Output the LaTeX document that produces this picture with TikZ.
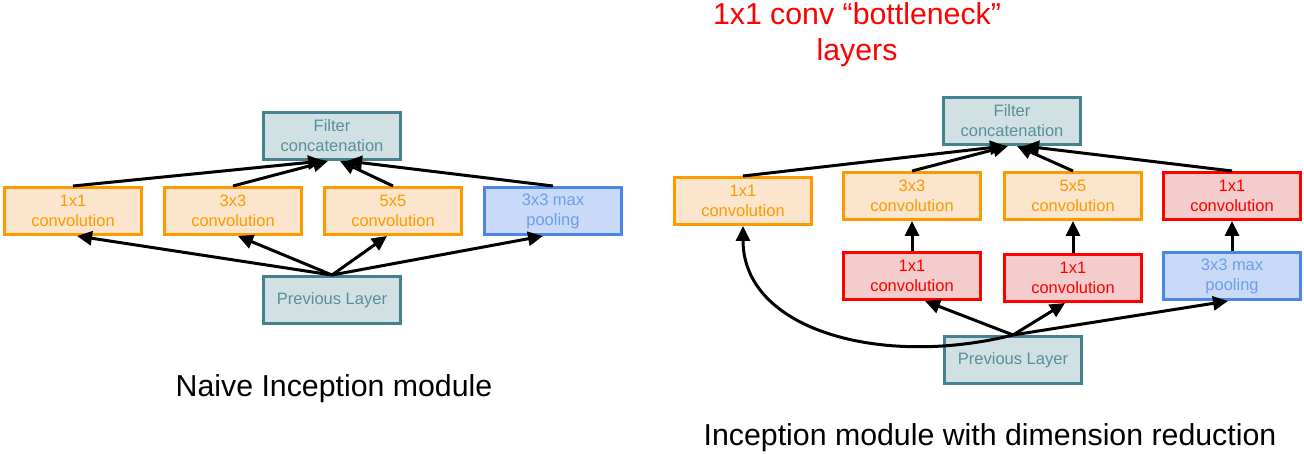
\documentclass[tikz,border=0pt]{standalone}
\usepackage{fontspec}
\setmainfont{Liberation Sans}
\usepackage{xcolor}
\usepackage{tikz}
\usetikzlibrary{positioning,arrows.meta,shapes.geometric}

\definecolor{orangeline}{HTML}{FF9900}
\definecolor{orangefill}{HTML}{FCE5CD}
\definecolor{redline}{HTML}{FF0000}
\definecolor{redfill}{HTML}{F4CCCC}
\definecolor{blueline}{HTML}{4A86E8}
\definecolor{bluefill}{HTML}{C9DAF8}
\definecolor{bluetext}{HTML}{6D9EEB}
\definecolor{tealline}{HTML}{45818E}
\definecolor{tealfill}{HTML}{D0E0E3}
\definecolor{tealtext}{HTML}{5B8F9B}

\tikzset{
    layer/.style={
        rectangle,
        draw,
        line width=3pt,
        minimum width=137pt,
        minimum height=47pt,
        inner sep=0pt,
        align=center,
        font=\fontsize{16.5}{20}\selectfont
    },
    convbox/.style={layer, draw=orangeline, fill=orangefill, text=orangeline},
    bottleneck/.style={layer, draw=redline, fill=redfill, text=redline},
    poolbox/.style={layer, draw=blueline, fill=bluefill, text=bluetext},
    tealbox/.style={layer, draw=tealline, fill=tealfill, text=tealtext},
    caption/.style={font=\fontsize{30.3}{36}\selectfont, inner sep=0pt},
    arrow/.style={-{Triangle[length=15pt,width=14pt]}, line width=3pt, black}
}

\begin{document}
\begin{tikzpicture}[x=1pt,y=-1pt]
    \useasboundingbox (0,0) rectangle (1304,454);

    % Modulo naive
    \node[tealbox] (fcA) at (332,136) {Filter\\concatenation};
    \node[convbox] (c1A) at (73,211) {1x1\\convolution};
    \node[convbox] (c3A) at (233,211) {3x3\\convolution};
    \node[convbox] (c5A) at (393,211) {5x5\\convolution};
    \node[poolbox] (poolA) at (553,211) {3x3 max\\pooling};
    \node[tealbox] (prevA) at (332,300) {Previous Layer};
    \node[caption, anchor=base] (naive) at (334,396) {Naive Inception module};

    \foreach \n/\s in {c1A/-9,c3A/-4,c5A/8,poolA/15}
        \draw[arrow] (\n.north) -- ([xshift=\s pt]fcA.south);
    \foreach \n/\s in {c1A/4,c3A/5,c5A/-6,poolA/-10}
        \draw[arrow] (prevA.north) -- ([xshift=\s pt]\n.south);

    % Modulo con riduzione della dimensione
    \node[caption, text=redline, align=center, anchor=north] (title) at (857,2.5)
        {1x1 conv “bottleneck”\\layers};
    \node[tealbox] (fcB) at (1012,121) {Filter\\concatenation};
    \node[convbox] (c1B) at (743,201) {1x1\\convolution};
    \node[convbox] (c3B) at (912,196) {3x3\\convolution};
    \node[convbox] (c5B) at (1073,196) {5x5\\convolution};
    \node[bottleneck] (rdB) at (1232,196) {1x1\\convolution};
    \node[bottleneck] (r3B) at (912,276) {1x1\\convolution};
    \node[bottleneck] (r5B) at (1073,278) {1x1\\convolution};
    \node[poolbox] (poolB) at (1232,276) {3x3 max\\pooling};
    \node[tealbox] (prevB) at (1013,360) {Previous Layer};
    \node[caption, anchor=base] (dimred) at (990,445) {Inception module with dimension reduction};

    \foreach \n/\s in {c1B/-7,c3B/-4,c5B/5,rdB/12}
        \draw[arrow] (\n.north) -- ([xshift=\s pt]fcB.south);
    \draw[arrow] (r3B) -- (c3B);
    \draw[arrow] (r5B) -- (c5B);
    \draw[arrow] (poolB) -- (rdB);
    \foreach \n/\s in {r3B/13,r5B/-8,poolB/-4}
        \draw[arrow] (prevB.north) -- ([xshift=\s pt]\n.south);
    \draw[arrow] (prevB.north) .. controls +(-132,33) and +(0,104) .. (c1B.south);

\end{tikzpicture}
\end{document}
